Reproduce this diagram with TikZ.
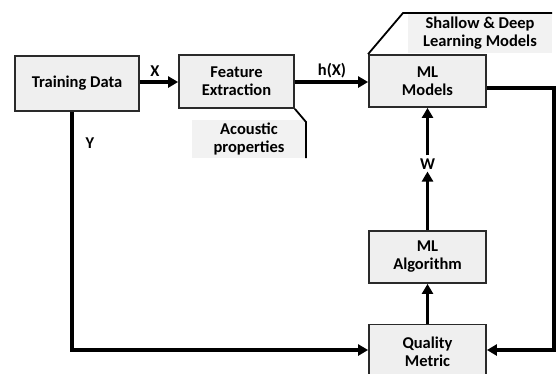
\documentclass[tikz,border=0pt]{standalone}
\usepackage{fontspec}
\setmainfont{Carlito}
\usetikzlibrary{arrows.meta}
\definecolor{boxfill}{HTML}{EFEFEF}
\definecolor{boxline}{HTML}{2A2A2A}
\definecolor{callfill}{HTML}{F2F2F2}
\begin{document}
\begin{tikzpicture}[x=1pt,y=-1pt,
  every node/.style={font=\fontsize{16.5}{18}\selectfont\bfseries, text=black},
  blockbox/.style={draw=boxline, line width=1.8pt, fill=boxfill, align=center, inner sep=0pt},
  conn/.style={line width=3.6pt, -{Triangle[length=10pt,width=11pt]}},
  callbg/.style={fill=callfill, draw=none, align=center, inner sep=0pt},
  callline/.style={line width=1.8pt, draw=black},
  lbl/.style={inner sep=1pt}
]
\useasboundingbox (0,0) rectangle (559,373);
\clip (0,0) rectangle (559,373);

% callouts (background first)
\node[callbg, minimum width=144pt, minimum height=40pt] (shallow) at (480,33) {Shallow \& Deep\\Learning Models};
\node[callbg, minimum width=114pt, minimum height=38pt] (acoustic) at (249,139) {Acoustic\\properties};

% blocks
\node[blockbox, minimum width=124pt, minimum height=55pt] (td) at (77,83.5) {Training Data};
\node[blockbox, minimum width=115pt, minimum height=53pt] (fe) at (236.5,81.5) {Feature\\Extraction};
\node[blockbox, minimum width=117pt, minimum height=52pt] (mlm) at (427.5,81) {ML\\Models};
\node[blockbox, minimum width=117pt, minimum height=52pt] (alg) at (427.5,257) {ML\\Algorithm};
\node[blockbox, minimum width=117pt, minimum height=55pt] (qm) at (427.5,352) {Quality\\Metric};

% callout pointers
\coordinate (s1) at (403,13);
\coordinate (s2) at (552,13);
\draw[callline] (mlm.north west) -- (s1) -- (s2);
\coordinate (a1) at (306,122);
\coordinate (a2) at (306,158);
\draw[callline] (fe.south east) -- (a1) -- (a2);

% labels
\node[lbl] (lx) at (155,71) {X};
\node[lbl] (lh) at (332,71) {h(X)};
\node[lbl] (ly) at (90,143) {Y};
\node[lbl] (lw) at (427.5,164) {W};

% connectors
\draw[conn] (td.east |- 0,82) -- (fe.west |- 0,82);
\draw[conn] (fe.east |- 0,82) -- (mlm.west |- 0,82);
\draw[conn] (alg.north) -- ([yshift=-1pt]lw.south);
\draw[conn] ([yshift=2pt]lw.north) -- (mlm.south);
\draw[conn] (qm.north) -- (alg.south);

\coordinate (lc) at (72,350);
\coordinate (rc) at (554,350);
\coordinate (rt) at (554,88);
\draw[conn] (td.south -| lc) -- (lc) -- (lc -| qm.west);
\draw[conn] (mlm.east |- rt) -- (rt) -- (rc) -- (rc -| qm.east);
\end{tikzpicture}
\end{document}
